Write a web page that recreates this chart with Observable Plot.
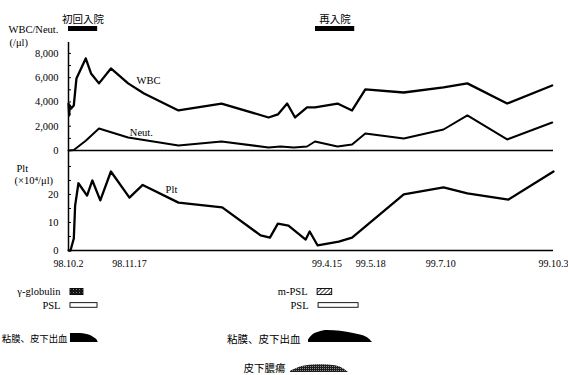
<!DOCTYPE html>
<html><head><meta charset="utf-8">
<script src="https://cdn.jsdelivr.net/npm/d3@7"></script>
<script src="https://cdn.jsdelivr.net/npm/@observablehq/plot@0.6"></script>
<style>
body{margin:0;background:#fff;color:#000;}
#chart{position:relative;width:568px;height:375px;overflow:hidden;background:#fff;}
</style></head><body>
<svg width="0" height="0" style="position:absolute">
<defs>
<pattern id="hatch" width="3" height="3" patternUnits="userSpaceOnUse" patternTransform="rotate(45)"><rect width="3" height="3" fill="#fff"/><line x1="0" y1="0" x2="0" y2="3" stroke="#000" stroke-width="1.5"/></pattern>
<pattern id="dense" width="3" height="3" patternUnits="userSpaceOnUse"><rect width="3" height="3" fill="#151515"/><rect x="1" y="1" width="1" height="1" fill="#808080"/></pattern>
<pattern id="stipple" width="2" height="2" patternUnits="userSpaceOnUse"><rect width="2" height="2" fill="#1e1e1e"/><rect x="0" y="0" width="1" height="1" fill="#8a8a8a"/></pattern>
</defs></svg>
<div id="chart"></div>
<script>
// ---------- data ----------
const startDate = new Date(Date.UTC(1998, 9, 2));
const endDate = new Date(Date.UTC(1999, 9, 3));

// days since 98.10.2
const wbcDays = [0,0.5,1,2,4,6,13,17,23,32,45,57,83,115.5,151,158,165,171,180,186,203,214,224,253,283,301,331,365];
const wbcValues = [3870,2890,3710,3460,3710,5940,7590,6350,5530,6760,5530,4700,3300,3870,2720,2970,3870,2720,3550,3550,3870,3300,5030,4780,5200,5530,3870,5360];

const neutDays = [0,4,13,23,45,83,115.5,151,160,170,180,186,203,214,224,253,283,301,331,365];
const neutValues = [0,40,800,1810,1070,410,740,250,330,250,330,740,330,500,1400,990,1730,2890,910,2310];

const pltDays = [0,1.5,4,5,7.5,14,18,24,32,46,56,83,116,145,152,158,166,179,182,188,204,214,253,283,301,332,366];
const pltValues = [0,0,4.3,16,24,19.6,25,17.9,28.2,18.9,23.4,17.1,15.4,5.4,4.6,9.6,8.9,3.9,6.8,1.8,3.2,4.6,20,22.5,20.4,18.2,28.2];

const tickDates = ["1998-10-02","1998-11-17","1999-04-15","1999-05-18","1999-07-10","1999-10-03"];
const tickLabels = ["98.10.2","98.11.17","99.4.15","99.5.18","99.7.10","99.10.3"];
const wbcTickValues = [0,2000,4000,6000,8000];
const wbcMinorTicks = [0,1000,2000,3000,4000,5000,6000,7000,8000];
const pltTickValues = [0,10,20];
const pltMinorTicks = [0,5,10,15,20,25,30];

const admissionNames = ["初回入院","再入院"];
const admissionStart = [0,186.4];
const admissionEnd = [22,216];

const drugNames = ["γ-globulin","PSL","m-PSL","PSL"];
const drugStart = [1.5,1.5,188,188.7];
const drugEnd = [11.3,21.9,199,218.9];
const drugRow = ["a","b","a","b"];
const drugKind = ["gamma","psl","mpsl","psl"];

const bleedLabel = "粘膜、皮下出血";
const bleed1Days = [1.5,9,13,16.6,19.9,21.7,22.4];
const bleed1Levels = [0.75,0.75,0.7,0.58,0.36,0.2,0];
const bleed2Days = [181.1,184.1,188.7,195.5,205.3,215.1,225.7,229.4];
const bleed2Levels = [0.22,0.6,0.85,1,0.95,0.75,0.4,0];
const abscessLabel = "皮下膿瘍";
const abscessDays = [167.5,175,184.2,191.7,201.5,207.5,211.3];
const abscessLevels = [0.1,0.45,0.62,0.65,0.55,0.3,0];

// ---------- helpers / layout ----------
const toDate = d => new Date(startDate.getTime() + d * 864e5);
const labelMap = new Map(tickDates.map((s, i) => [+new Date(s + "T00:00:00Z"), tickLabels[i]]));
const serif = "'Liberation Serif', 'Times New Roman', serif";
const cjk = "'Noto Sans CJK JP', sans-serif";

const wbc = wbcDays.map((d, i) => ({date: toDate(d), value: wbcValues[i]}));
const neut = neutDays.map((d, i) => ({date: toDate(d), value: neutValues[i]}));
const plt = pltDays.map((d, i) => ({date: toDate(d), value: pltValues[i]}));
const admissions = admissionNames.map((n, i) => ({name: n, start: toDate(admissionStart[i]), end: toDate(admissionEnd[i]), mid: toDate((admissionStart[i] + admissionEnd[i]) / 2)}));

const rowCenter = {a: 2.05, b: 3.33};
const half = {gamma: 0.29, mpsl: 0.29, psl: 0.22};
const fills = {gamma: "url(#dense)", mpsl: "url(#hatch)", psl: "white"};
const drugs = drugNames.map((n, i) => ({name: n, start: toDate(drugStart[i]), end: toDate(drugEnd[i]), row: rowCenter[drugRow[i]], kind: drugKind[i]}));
const bleedBase = 6.86, abscessBase = 9.71, shapeH = 1.143;
const profile = (days, levels, base, fill) => days.map((d, i) => ({date: toDate(d), y1: base, y2: base - levels[i] * shapeH, fill}));
const shapes = [
  profile(bleed1Days, bleed1Levels, bleedBase, "black"),
  profile(bleed2Days, bleed2Levels, bleedBase, "black"),
  profile(abscessDays, abscessLevels, abscessBase, "url(#stipple)")
];
const shapeLabels = [
  {date: toDate(bleed1Days[0]), y: bleedBase - 0.3, text: bleedLabel, dx: -3, size: 9.4},
  {date: toDate(bleed2Days[0]), y: bleedBase - 0.3, text: bleedLabel, dx: -8, size: 10.5},
  {date: toDate(abscessDays[0]), y: abscessBase - 0.36, text: abscessLabel, dx: -5, size: 10.5}
];
const seriesLabels1 = [{date: toDate(60.4), value: 5770, text: "WBC"}, {date: toDate(55), value: 1480, text: "Neut."}];
const seriesLabels2 = [{date: toDate(77.7), value: 21.8, text: "Plt"}];

const common = {
  width: 568, marginLeft: 68, marginRight: 15,
  style: {fontFamily: serif, fontSize: "10.5px", background: "transparent", overflow: "visible"}
};
const xScale = {type: "utc", domain: [startDate, endDate]};
const chart = document.getElementById("chart");
function place(el, top) {
  el.style.position = "absolute"; el.style.left = "0px"; el.style.top = top + "px";
  el.style.maxWidth = "none";
  chart.appendChild(el);
}

// ---------- admissions ----------
place(Plot.plot({
  ...common, height: 36, marginTop: 26, marginBottom: 5,
  x: {...xScale, axis: null},
  marks: [
    Plot.rect(admissions, {x1: "start", x2: "end", fill: "black"}),
    Plot.text(admissions, {x: "mid", text: "name", frameAnchor: "top", dy: -11, fontFamily: cjk, fontSize: 10.5})
  ]
}), 0);

// ---------- WBC / Neut ----------
place(Plot.plot({
  ...common, height: 160, marginTop: 42, marginBottom: 10,
  x: {...xScale, axis: null},
  y: {domain: [0, 8900]},
  marks: [
    Plot.axisY(wbcMinorTicks, {tickSize: 3, dx: 3, fill: "none", label: null}),
    Plot.axisY(wbcTickValues, {tickSize: 0, tickPadding: 10, tickFormat: d3.format(","), label: null}),
    Plot.ruleX([startDate], {strokeWidth: 1.5}),
    Plot.ruleY([0], {strokeWidth: 1.5}),
    Plot.line(wbc, {x: "date", y: "value", strokeWidth: 2.3}),
    Plot.line(neut, {x: "date", y: "value", strokeWidth: 2}),
    Plot.text(seriesLabels1, {x: "date", y: "value", text: "text"}),
    Plot.text(["WBC/Neut."], {frameAnchor: "top-left", text: d => d, dx: -60, dy: -17, textAnchor: "start"}),
    Plot.text(["(/μl)"], {frameAnchor: "top-left", text: d => d, dx: -59, dy: -4, textAnchor: "start"})
  ]
}), 0);

// ---------- Plt ----------
place(Plot.plot({
  ...common, height: 125, marginTop: 0, marginBottom: 25,
  x: xScale,
  y: {domain: [0, 35.7]},
  marks: [
    Plot.axisY(pltMinorTicks, {tickSize: 3, dx: 3, fill: "none", label: null}),
    Plot.axisY(pltTickValues, {tickSize: 0, tickPadding: 10, label: null}),
    Plot.axisX(tickDates.map(s => new Date(s + "T00:00:00Z")), {tickSize: 0, tickPadding: 9, tickFormat: d => labelMap.get(+d), label: null, fontSize: 10}),
    Plot.ruleX([startDate], {strokeWidth: 1.5}),
    Plot.ruleY([0], {strokeWidth: 1.5}),
    Plot.line(plt, {x: "date", y: "value", strokeWidth: 2.3}),
    Plot.text(seriesLabels2, {x: "date", y: "value", text: "text"}),
    Plot.text(["Plt"], {frameAnchor: "top-left", text: d => d, dx: -52, dy: 14, textAnchor: "start"}),
    Plot.text(["(×10⁴/μl)"], {frameAnchor: "top-left", text: d => d, dx: -54, dy: 26, textAnchor: "start"})
  ]
}), 150);

// ---------- treatments / symptoms ----------
place(Plot.plot({
  ...common, height: 105, marginTop: 0, marginBottom: 0,
  x: {...xScale, axis: null},
  y: {domain: [0, 10], range: [0, 105], axis: null},
  marks: [
    Plot.rect(drugs, {x1: "start", x2: "end", y1: d => d.row - half[d.kind], y2: d => d.row + half[d.kind], fill: d => fills[d.kind], stroke: "black", strokeWidth: 0.9}),
    Plot.text(drugs, {x: "start", y: "row", text: "name", textAnchor: "end", dx: -10}),
    ...shapes.map(s => Plot.areaY(s, {x: "date", y1: "y1", y2: "y2", fill: s[0].fill, curve: "monotone-x"})),
    ...shapeLabels.map(l => Plot.text([l], {x: "date", y: "y", text: "text", dx: l.dx, textAnchor: "end", fontFamily: cjk, fontSize: l.size}))
  ]
}), 270);
</script>
</body></html>
